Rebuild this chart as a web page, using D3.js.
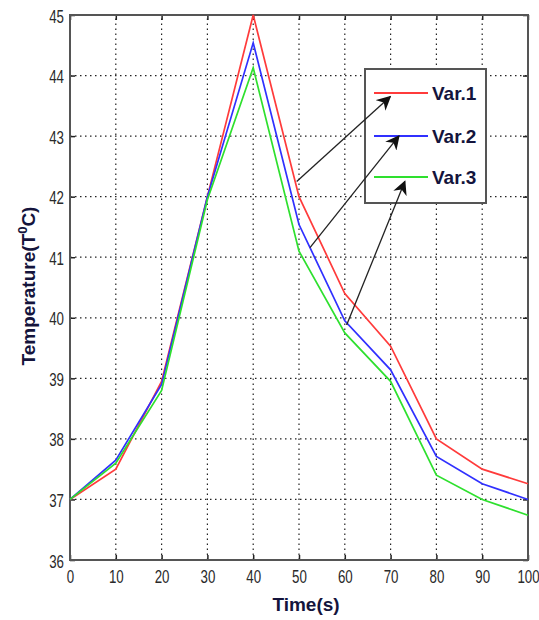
<!DOCTYPE html>
<html>
<head>
<meta charset="utf-8">
<script src="https://cdn.jsdelivr.net/npm/d3@7"></script>
<style>
  body { margin: 0; background: #fff; }
  svg { display: block; }
</style>
</head>
<body>
<div id="container"></div>
<script>
const times = [0, 10, 20, 30, 40, 50, 60, 70, 80, 90, 100];
const var1 = [37.0, 37.5, 38.95, 42.0, 45.0, 42.0, 40.4, 39.53, 38.0, 37.5, 37.26];
const var2 = [37.0, 37.65, 38.9, 42.0, 44.54, 41.54, 39.95, 39.14, 37.71, 37.26, 37.0];
const var3 = [37.0, 37.6, 38.8, 41.95, 44.13, 41.1, 39.75, 38.95, 37.4, 37.0, 36.74];
const seriesNames = ["Var.1", "Var.2", "Var.3"];
const seriesColors = ["#ff3b3b", "#3030ff", "#2ee02e"];
const xTicks = [0, 10, 20, 30, 40, 50, 60, 70, 80, 90, 100];
const yTicks = [36, 37, 38, 39, 40, 41, 42, 43, 44, 45];
// arrows: [from time, from temp, to time, to temp]
const arrows = [
  [49.5, 42.25, 69.9, 43.65],
  [52.4, 41.16, 71.8, 43.0],
  [60.4, 39.88, 73.1, 42.25]
];

const width = 539, height = 620;
const margin = { left: 70, right: 11, top: 15, bottom: 60 };

const svg = d3.select("#container").append("svg")
  .attr("width", width).attr("height", height);

const x = d3.scaleLinear().domain([0, 100]).range([margin.left, width - margin.right]);
const y = d3.scaleLinear().domain([36, 45]).range([height - margin.bottom, margin.top]);

const tickFont = "'Liberation Sans', Arial, sans-serif";
const titleFont = "'Liberation Sans', Arial, sans-serif";
const titleColor = "#14143c";

// grid
const grid = svg.append("g").attr("stroke", "#222").attr("stroke-width", 1.2)
  .attr("stroke-dasharray", "1.5,3.5");
grid.selectAll(".gx").data(xTicks.slice(1, -1)).enter().append("line")
  .attr("x1", d => x(d)).attr("x2", d => x(d))
  .attr("y1", y(36)).attr("y2", y(45));
grid.selectAll(".gy").data(yTicks.slice(1, -1)).enter().append("line")
  .attr("y1", d => y(d)).attr("y2", d => y(d))
  .attr("x1", x(0)).attr("x2", x(100));

// axes (ticks pointing inward), narrow tick labels like the original
const xAxis = svg.append("g")
  .attr("transform", `translate(0,${y(36)})`)
  .call(d3.axisBottom(x).tickValues(xTicks).tickSizeInner(-5).tickSizeOuter(0));
const yAxis = svg.append("g")
  .attr("transform", `translate(${x(0)},0)`)
  .call(d3.axisLeft(y).tickValues(yTicks).tickSizeInner(-5).tickSizeOuter(0));
[xAxis, yAxis].forEach(a => {
  a.select(".domain").remove();
  a.selectAll(".tick line").attr("stroke", "#222").attr("stroke-width", 1.5);
  a.selectAll("text").attr("fill", "#2a2a2a")
    .style("font-family", tickFont).style("font-size", "18px")
    .attr("x", 0).attr("y", 0).attr("dy", null);
});
xAxis.selectAll("text").attr("transform", "translate(0,23) scale(0.74,1)");
yAxis.selectAll("text").attr("transform", "translate(-6,7) scale(0.74,1)");

// ticks on top and right too
svg.append("g").attr("transform", `translate(0,${y(45)})`)
  .call(d3.axisTop(x).tickValues(xTicks).tickSizeInner(-5).tickSizeOuter(0).tickFormat(""))
  .call(g => { g.select(".domain").remove(); g.selectAll("line").attr("stroke", "#222").attr("stroke-width", 1.5); });
svg.append("g").attr("transform", `translate(${x(100)},0)`)
  .call(d3.axisRight(y).tickValues(yTicks).tickSizeInner(-5).tickSizeOuter(0).tickFormat(""))
  .call(g => { g.select(".domain").remove(); g.selectAll("line").attr("stroke", "#222").attr("stroke-width", 1.5); });

// box
svg.append("rect")
  .attr("x", x(0)).attr("y", y(45))
  .attr("width", x(100) - x(0)).attr("height", y(36) - y(45))
  .attr("fill", "none").attr("stroke", "#555").attr("stroke-width", 2);

// lines
const series = [var1, var2, var3];
const line = d3.line().x((d, i) => x(times[i])).y(d => y(d));
svg.append("g").selectAll("path").data(series).enter().append("path")
  .attr("d", line)
  .attr("fill", "none")
  .attr("stroke", (d, i) => seriesColors[i])
  .attr("stroke-width", 1.7);

// legend
const lg = svg.append("g").attr("transform", "translate(365,69)");
lg.append("rect").attr("width", 121).attr("height", 134)
  .attr("fill", "#fff").attr("stroke", "#555").attr("stroke-width", 2);
const legendRows = [24, 67, 108];
seriesNames.forEach((name, i) => {
  lg.append("line").attr("x1", 9).attr("x2", 63)
    .attr("y1", legendRows[i]).attr("y2", legendRows[i])
    .attr("stroke", seriesColors[i]).attr("stroke-width", 2);
  lg.append("text").attr("x", 67).attr("y", legendRows[i] + 7)
    .attr("fill", titleColor)
    .style("font-family", titleFont)
    .style("font-weight", "bold").style("font-size", "19px")
    .text(name);
});

// arrows
const defs = svg.append("defs");
defs.append("marker").attr("id", "arr")
  .attr("viewBox", "0 0 10 10").attr("refX", 9).attr("refY", 5)
  .attr("markerWidth", 11).attr("markerHeight", 11).attr("orient", "auto")
  .append("path").attr("d", "M0,0 L10,5 L0,10 L3,5 Z").attr("fill", "#111");
svg.append("g").selectAll("line").data(arrows).enter().append("line")
  .attr("x1", d => x(d[0])).attr("y1", d => y(d[1]))
  .attr("x2", d => x(d[2])).attr("y2", d => y(d[3]))
  .attr("stroke", "#222").attr("stroke-width", 1.3)
  .attr("marker-end", "url(#arr)");

// axis titles
svg.append("text")
  .attr("x", 306).attr("y", 611)
  .attr("text-anchor", "middle")
  .style("font-family", titleFont)
  .style("font-weight", "bold").style("font-size", "19px")
  .attr("fill", titleColor)
  .text("Time(s)");

const yt = svg.append("text")
  .attr("transform", "translate(35,286) rotate(-90)")
  .attr("text-anchor", "middle")
  .style("font-family", titleFont)
  .style("font-weight", "bold").style("font-size", "19px")
  .attr("fill", titleColor);
yt.append("tspan").text("Temperature(T");
yt.append("tspan").attr("dy", -8).style("font-size", "13px").text("0");
yt.append("tspan").attr("dy", 8).text("C)");
</script>
</body>
</html>
